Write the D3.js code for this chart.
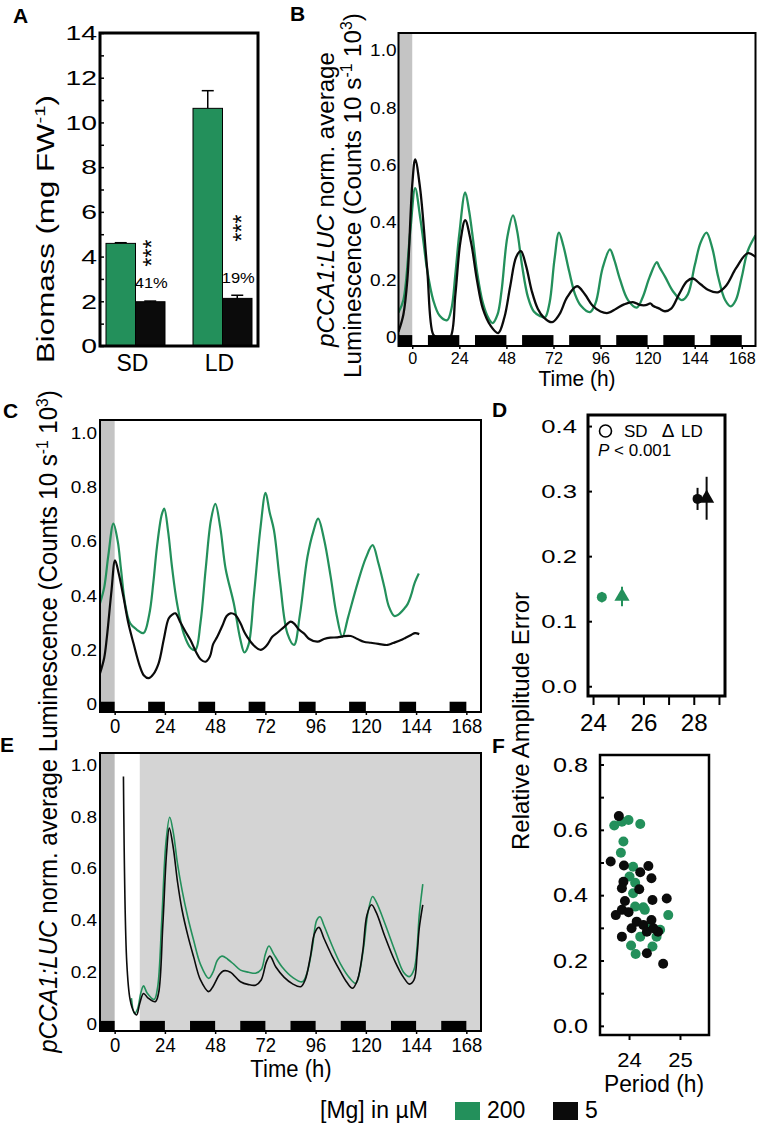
<!DOCTYPE html>
<html><head><meta charset="utf-8">
<script src="https://cdn.jsdelivr.net/npm/d3@7"></script>
<style>body{margin:0;background:#fff}svg{display:block}text{font-family:"Liberation Sans",Arial,sans-serif}</style>
</head><body><svg id="c" width="757" height="1130"></svg>
<script>
// ---------------- DATA ----------------
const GREEN="#23905b", BLACK="#0b0b0b";
// Panel A
const aGroups=["SD","LD"];
const aSeries=["200","5"];
const aGreen=[4.59,10.63];
const aGreenErr=[0.03,0.79];
const aBlack=[1.98,2.13];
const aBlackErr=[0.03,0.14];
const aPct=["41%","19%"];
const aTicks=d3.range(0,15,1);
// Panel B (SD entrainment)
const bGreenT=[-7,-4.5,-1,1.5,4,5.6,7.5,10.7,14,17.8,20,22,24,27,29,31,33,36,39,41,43.5,45.5,48.5,51.4,53.5,56,59,62,65,67.7,70,72.5,74.8,77,80,83,86,90.6,93.5,97,100.8,103,106,110,114.5,117.5,121,124.7,126,129,133,137.4,140.5,144,147,150,153,156,159.5,162.4,165,168,171,175];
const bGreenV=[0.087,0.13,0.37,0.52,0.42,0.34,0.24,0.13,0.075,0.06,0.1,0.22,0.36,0.505,0.44,0.34,0.23,0.12,0.065,0.05,0.08,0.16,0.35,0.425,0.37,0.25,0.14,0.09,0.075,0.07,0.12,0.27,0.365,0.32,0.23,0.15,0.11,0.088,0.12,0.24,0.306,0.27,0.2,0.13,0.104,0.14,0.21,0.262,0.245,0.21,0.16,0.13,0.15,0.25,0.33,0.365,0.31,0.21,0.13,0.108,0.13,0.21,0.3,0.355];
const bBlackT=[-7,-4.5,-2.5,0,1.5,4,7.6,10.7,12.7,16,19.4,22,24.5,27,30,33,36,40,43.8,47,50,53,55.4,58,61,64,67,71.3,75,79,84,88,92,96,99.8,104,108,112.5,116,119,121.5,122.7,124,126,128.8,132,136,140,143,147,151,155.8,160,165,171,175];
const bBlackV=[0.02,0.08,0.2,0.53,0.62,0.52,0.24,0.01,0,-0.01,0,0.15,0.33,0.408,0.33,0.2,0.1,0.04,0.015,0.07,0.18,0.28,0.3,0.25,0.16,0.1,0.07,0.053,0.08,0.14,0.178,0.15,0.11,0.09,0.085,0.1,0.115,0.123,0.113,0.112,0.118,0.11,0.106,0.1,0.091,0.1,0.15,0.195,0.205,0.185,0.165,0.157,0.18,0.24,0.293,0.28];
const bDark=[[-7,0],[8,24],[32,48],[56,72],[80,96],[104,120],[128,144],[152,168]];
const timeTicks=[0,24,48,72,96,120,144,168];
const lumTicks=[0,0.2,0.4,0.6,0.8,1.0];
// Panel C (LD entrainment)
const cGreenT=[-7,-5,-3,-0.6,1.5,3,5,7.4,10.5,13.8,16.5,18.5,20.2,22.5,23.7,25.5,27.5,29.8,33,36.5,38.6,41,43.5,46,48.1,50.5,53,56.9,60,62,64,66.5,69.7,72.1,74,76.1,79,82.5,85.7,88.5,92.1,95,97.2,100,103.2,106,108.8,111.5,116,120,123.2,126,128.8,131,133.6,135.5,138.4,140,141.6,143.2,145.3];
const cGreenV=[0.372,0.43,0.55,0.667,0.6,0.5,0.37,0.298,0.275,0.262,0.33,0.45,0.58,0.7,0.722,0.64,0.5,0.372,0.26,0.205,0.2,0.3,0.5,0.68,0.74,0.65,0.5,0.372,0.24,0.19,0.22,0.4,0.654,0.781,0.71,0.642,0.45,0.261,0.218,0.33,0.544,0.64,0.685,0.61,0.47,0.33,0.248,0.32,0.445,0.54,0.587,0.52,0.433,0.36,0.325,0.33,0.353,0.37,0.402,0.445,0.482];
const cBlackT=[-7,-5,-3.7,-1.5,0.2,2,4.2,6.5,9,12,14,16.2,18.5,21,23.5,25.8,27.5,29,31.5,34,36.2,39,41,43.4,45.5,47,49,51.5,53.5,55.3,57.5,60.1,62,63.3,66,69.7,72.5,75.3,78,81,84.1,86,88,90.4,93,96.9,100,103,106.4,109,112.8,116,119,122.4,126,130.4,133,136.8,139,141.6,143.5,145.5];
const cBlackV=[0.113,0.17,0.248,0.42,0.531,0.48,0.396,0.3,0.224,0.14,0.105,0.095,0.11,0.15,0.24,0.316,0.33,0.335,0.3,0.265,0.236,0.19,0.165,0.156,0.175,0.22,0.248,0.29,0.325,0.335,0.33,0.298,0.265,0.248,0.22,0.2,0.215,0.248,0.265,0.285,0.304,0.295,0.275,0.261,0.24,0.23,0.24,0.245,0.246,0.25,0.251,0.24,0.23,0.226,0.222,0.218,0.225,0.236,0.245,0.255,0.262,0.258];
const cDark=[[-7,0],[16,24],[40,48],[64,72],[88,96],[112,120],[136,144],[160,168]];
// Panel D
const dPeriod=[24.35,25.15,28.15,28.51];
const dErr=[0.137,0.138,0.288,0.289];
const dSem=[0.008,0.015,0.017,0.033];
const dShape=["circle","triangle","circle","triangle"];
const dColor=[GREEN,GREEN,BLACK,BLACK];
const dYTicks=[0,0.1,0.2,0.3,0.4];
const dXTicks=[24,25,26,27,28,29];
// Panel E (free run in LL)
const eGreenT=[8,9.5,11,12.5,13.8,15.5,18.9,20.5,22.5,24.5,26.3,28,30,32.2,35,37.7,41,44.9,47,49,51.3,54,57,60.1,64,67.3,70,72,73.7,76,80,85,89.7,92,94.5,96.5,98.1,100,104,108,112,115.2,117,119,121,123.2,125,129,134,138,140.8,143,144.5,145.5,147.2];
const eGreenV=[0.1,0.04,0.06,0.12,0.147,0.12,0.095,0.14,0.4,0.7,0.798,0.74,0.62,0.517,0.41,0.324,0.23,0.176,0.2,0.245,0.262,0.25,0.23,0.208,0.2,0.196,0.21,0.27,0.301,0.27,0.22,0.18,0.163,0.2,0.3,0.4,0.414,0.38,0.3,0.23,0.18,0.157,0.2,0.3,0.43,0.492,0.47,0.39,0.28,0.2,0.183,0.21,0.3,0.42,0.54];
const eBlackT=[4.2,5.8,7.4,9,10.5,12,13.8,16,19.4,21,23,24.8,26.1,28,30,32.2,35,37.7,41,44.9,47,50,52,55.3,60.1,64,67.3,70,72.5,74.2,77,81,85,88.9,91,93.5,95.5,97.6,100,104,108,111,113.6,116,118.5,120.5,122.7,125,129,134,138,140.8,143,144.5,145.5,147.2];
const eBlackV=[0.955,0.235,0.093,0.05,0.035,0.08,0.118,0.1,0.086,0.12,0.38,0.66,0.756,0.68,0.55,0.44,0.34,0.26,0.17,0.125,0.145,0.19,0.205,0.2,0.163,0.152,0.15,0.17,0.24,0.262,0.22,0.18,0.155,0.144,0.17,0.26,0.35,0.373,0.33,0.26,0.2,0.16,0.138,0.17,0.28,0.42,0.46,0.43,0.34,0.24,0.18,0.154,0.17,0.27,0.37,0.46];
const eDark=[[-7,0],[12,24],[36,48],[60,72],[84,96],[108,120],[132,144],[156,168]];
const eLight=[12,175];
// Panel F
const fGreenP=[23.71,23.86,23.99,24.22,23.89,23.84,24.08,24.01,24.12,24.08,24.28,24.31,24.12,24.77,24.22,24.61,24.54,24.04,24.13,24.46,24.41];
const fGreenA=[0.613,0.625,0.63,0.618,0.564,0.53,0.487,0.457,0.438,0.406,0.363,0.355,0.365,0.339,0.273,0.294,0.273,0.246,0.22,0.243,0.304];
const fBlackP=[23.80,23.64,23.90,24.38,24.22,24.44,23.89,23.86,24.20,24.46,24.74,23.92,23.74,23.86,23.99,24.15,24.28,24.44,24.05,24.35,24.57,23.86,24.35,24.67,24.48];
const fBlackA=[0.642,0.503,0.491,0.489,0.47,0.452,0.441,0.421,0.418,0.385,0.39,0.382,0.339,0.355,0.348,0.319,0.309,0.324,0.299,0.288,0.288,0.273,0.222,0.19,0.299];
const fYTicks=[0,0.1,0.2,0.3,0.4,0.5,0.6,0.7,0.8];
const fXTicks=[24,25];
// Legend
const legendItems=["200","5"];
const legendColors=[GREEN,BLACK];

// ---------------- HELPERS ----------------
const svg=d3.select("#c");
svg.append("rect").attr("width",757).attr("height",1130).attr("fill","#fff");

function label(txt,x,y,size,o={}){
  return svg.append("text").attr("transform",`translate(${x},${y}) scale(${o.sx||1},1)`)
    .attr("text-anchor",o.anchor||"middle").attr("font-size",size)
    .attr("font-weight",o.weight||"normal").attr("font-style",o.style||"normal")
    .attr("fill","#000").text(txt);
}
function rotLabel(parts,cx,cy,len,size){
  const t=svg.append("text").attr("font-size",size).attr("text-anchor","middle").attr("fill","#000");
  const sh=size*0.38; let shifted=false;
  parts.forEach(p=>{
    const ts=t.append("tspan").text(p.t);
    if(p.i) ts.attr("font-style","italic");
    if(p.sup){ts.attr("font-size",size*0.65).attr("dy",-sh);shifted=true;}
    else if(shifted){ts.attr("dy",sh);shifted=false;}
  });
  const w=t.node().getComputedTextLength();
  t.attr("transform",`translate(${cx},${cy}) rotate(-90) scale(${len/w},1)`);
  return t;
}
function axis(gen,tx,ty,size,sx,tw){
  const g=svg.append("g").attr("transform",`translate(${tx},${ty})`).call(gen);
  g.select(".domain").remove();
  g.selectAll(".tick line").attr("stroke","#000").attr("stroke-width",tw||1.5);
  g.selectAll(".tick text").attr("fill","#000").attr("font-size",size).each(function(){
    const s=d3.select(this); const x=+(s.attr("x")||0);
    s.attr("x",x/sx).attr("transform",`scale(${sx},1)`);
  });
  return g;
}
function frame(x0,y0,x1,y1,sw){
  svg.append("rect").attr("x",x0).attr("y",y0).attr("width",x1-x0).attr("height",y1-y0)
    .attr("fill","none").attr("stroke","#000").attr("stroke-width",sw);
}
function clip(id,x0,y0,x1,y1){
  svg.append("clipPath").attr("id",id).append("rect").attr("x",x0).attr("y",y0).attr("width",x1-x0).attr("height",y1-y0);
  return svg.append("g").attr("clip-path",`url(#${id})`);
}
const fmtLum=d=>d===0?"0":d3.format(".1f")(d);

// ---------------- PANEL A ----------------
{
  const x0=100,x1=258,y0=33,y1=346;
  const y=d3.scaleLinear().domain([0,14]).range([y1,y0]);
  const x=d3.scaleBand().domain(aGroups).range([x0,x1]).paddingInner(0.322).paddingOuter(0.069);
  const xs=d3.scaleBand().domain(aSeries).range([0,x.bandwidth()]);
  const vals={"200":aGreen,"5":aBlack}, errs={"200":aGreenErr,"5":aBlackErr}, cols={"200":GREEN,"5":BLACK};
  aSeries.forEach(s=>{
    aGroups.forEach((g,i)=>{
      const bx=x(g)+xs(s), v=vals[s][i], e=errs[s][i], cx=bx+xs.bandwidth()/2;
      svg.append("line").attr("x1",cx).attr("x2",cx).attr("y1",y(v)).attr("y2",y(v+e)).attr("stroke","#000").attr("stroke-width",1.5);
      svg.append("line").attr("x1",cx-6).attr("x2",cx+6).attr("y1",y(v+e)).attr("y2",y(v+e)).attr("stroke","#000").attr("stroke-width",1.5);
      svg.append("rect").attr("x",bx).attr("y",y(v)).attr("width",xs.bandwidth()).attr("height",y(0)-y(v))
        .attr("fill",cols[s]).attr("stroke","#000").attr("stroke-width",1);
    });
  });
  frame(x0,y0,x1,y1,3);
  axis(d3.axisLeft(y).tickValues(aTicks).tickSize(-4).tickPadding(3).tickFormat(d=>d%2===0?d:""),x0,0,21,1.35);
  aGroups.forEach((g,i)=>{
    label(g,x(g)+x.bandwidth()/2-3,371,23);
    const bx=x(g)+xs("5")+xs.bandwidth()/2;
    label(aPct[i],bx+1,i===0?288:283,15,{sx:1.1});
  });
  svg.append("text").attr("transform",`translate(160,253) rotate(-90)`).attr("text-anchor","middle").attr("font-size",23).text("***");
  svg.append("text").attr("transform",`translate(250,228) rotate(-90)`).attr("text-anchor","middle").attr("font-size",23).text("***");
  rotLabel([{t:"Biomass (mg FW"},{t:"-1",sup:true},{t:")"}],54,229,268,23);
  label("A",13,23,21,{anchor:"start",weight:"bold"});
}

// ---------------- PANEL B ----------------
{
  const x0=398.5,x1=755.5,y0=33,y1=346;
  const x=d3.scaleLinear().domain([-7,175]).range([x0,x1]);
  const y=d3.scaleLinear().domain([-0.03,1.06]).range([y1,y0]);
  const g=clip("clipB",x0,y0,x1,y1);
  g.append("rect").attr("x",x(-7)).attr("y",y0).attr("width",x(0)-x(-7)).attr("height",y1-y0).attr("fill","#c4c4c4");
  const line=d3.line().x(d=>x(d[0])).y(d=>y(d[1])).curve(d3.curveCatmullRom.alpha(0.5));
  g.append("path").datum(d3.zip(bGreenT,bGreenV)).attr("d",line).attr("fill","none").attr("stroke",GREEN).attr("stroke-width",2.3);
  g.append("path").datum(d3.zip(bBlackT,bBlackV)).attr("d",line).attr("fill","none").attr("stroke",BLACK).attr("stroke-width",2.3);
  g.selectAll("rect.dk").data(bDark).join("rect").attr("class","dk").attr("x",d=>x(d[0])).attr("width",d=>x(d[1])-x(d[0]))
    .attr("y",y(0.008)).attr("height",y1-y(0.008)).attr("fill","#000");
  frame(x0,y0,x1,y1,2);
  axis(d3.axisLeft(y).tickValues(lumTicks).tickSize(0).tickPadding(2).tickFormat(fmtLum),x0,0,17,1.12);
  axis(d3.axisBottom(x).tickValues(timeTicks).tickSize(3).tickPadding(3),0,y1,17,0.95);
  label("Time (h)",577,386,22,{sx:0.95});
  rotLabel([{t:"pCCA1:LUC",i:true},{t:" norm. average"}],334,199.5,295,24);
  rotLabel([{t:"Luminescence (Counts 10 s"},{t:"-1",sup:true},{t:" 10"},{t:"3",sup:true},{t:")"}],361,195.5,365,24);
  label("B",290,21,21,{anchor:"start",weight:"bold"});
}

// ---------------- PANEL C ----------------
{
  const x0=100,x1=481,y0=420,y1=712;
  const x=d3.scaleLinear().domain([-7,175]).range([x0,x1]);
  const y=d3.scaleLinear().domain([-0.03,1.05]).range([y1,y0]);
  const g=clip("clipC",x0,y0,x1,y1);
  g.append("rect").attr("x",x(-7)).attr("y",y0).attr("width",x(0)-x(-7)).attr("height",y1-y0).attr("fill","#c4c4c4");
  const line=d3.line().x(d=>x(d[0])).y(d=>y(d[1])).curve(d3.curveCatmullRom.alpha(0.5));
  g.append("path").datum(d3.zip(cGreenT,cGreenV)).attr("d",line).attr("fill","none").attr("stroke",GREEN).attr("stroke-width",2.2);
  g.append("path").datum(d3.zip(cBlackT,cBlackV)).attr("d",line).attr("fill","none").attr("stroke",BLACK).attr("stroke-width",2.2);
  g.selectAll("rect.dk").data(cDark).join("rect").attr("class","dk").attr("x",d=>x(d[0])).attr("width",d=>x(d[1])-x(d[0]))
    .attr("y",y(0.008)).attr("height",y1-y(0.008)).attr("fill","#000");
  frame(x0,y0,x1,y1,2);
  axis(d3.axisLeft(y).tickValues(lumTicks).tickSize(0).tickPadding(3).tickFormat(fmtLum),x0,0,16.5,1.15);
  axis(d3.axisBottom(x).tickValues(timeTicks).tickSize(3).tickPadding(3),0,y1,21,0.88);
  label("C",3,418,21,{anchor:"start",weight:"bold"});
}

// ---------------- PANEL E ----------------
{
  const x0=100,x1=481,y0=753,y1=1031;
  const x=d3.scaleLinear().domain([-7,175]).range([x0,x1]);
  const y=d3.scaleLinear().domain([-0.027,1.046]).range([y1,y0]);
  const g=clip("clipE",x0,y0,x1,y1);
  g.append("rect").attr("x",x(-7)).attr("y",y0).attr("width",x(0)-x(-7)).attr("height",y1-y0).attr("fill","#b9b9b9");
  g.append("rect").attr("x",x(eLight[0])).attr("y",y0).attr("width",x(eLight[1])-x(eLight[0])).attr("height",y1-y0).attr("fill","#d4d4d4");
  const line=d3.line().x(d=>x(d[0])).y(d=>y(d[1])).curve(d3.curveCatmullRom.alpha(0.5));
  g.append("path").datum(d3.zip(eGreenT,eGreenV)).attr("d",line).attr("fill","none").attr("stroke",GREEN).attr("stroke-width",1.6);
  g.append("path").datum(d3.zip(eBlackT,eBlackV)).attr("d",line).attr("fill","none").attr("stroke",BLACK).attr("stroke-width",1.6);
  g.selectAll("rect.dk").data(eDark).join("rect").attr("class","dk").attr("x",d=>x(d[0])).attr("width",d=>x(d[1])-x(d[0]))
    .attr("y",y(0.012)).attr("height",y1-y(0.012)).attr("fill","#000");
  frame(x0,y0,x1,y1,2);
  axis(d3.axisLeft(y).tickValues(lumTicks).tickSize(0).tickPadding(3).tickFormat(fmtLum),x0,0,16.5,1.15);
  axis(d3.axisBottom(x).tickValues(timeTicks).tickSize(3).tickPadding(3),0,y1,21,0.88);
  label("Time (h)",291,1077,24,{sx:0.92});
  label("E",0,752,21,{anchor:"start",weight:"bold"});
}
rotLabel([{t:"pCCA1:LUC",i:true},{t:" norm. average Luminescence (Counts 10 s"},{t:"-1",sup:true},{t:" 10"},{t:"3",sup:true},{t:")"}],57,721.5,663,25);

// ---------------- PANEL D ----------------
{
  const x0=588,x1=725,y0=415,y1=696;
  const x=d3.scaleLinear().domain([23.8,29.24]).range([x0,x1]);
  const y=d3.scaleLinear().domain([-0.015,0.417]).range([y1,y0]);
  dPeriod.forEach((p,i)=>{
    svg.append("line").attr("x1",x(p)).attr("x2",x(p)).attr("y1",y(dErr[i]-dSem[i])).attr("y2",y(dErr[i]+dSem[i])).attr("stroke",dColor[i]).attr("stroke-width",2);
    if(dShape[i]==="circle") svg.append("circle").attr("cx",x(p)).attr("cy",y(dErr[i])).attr("r",5).attr("fill",dColor[i]);
    else svg.append("path").attr("d",d3.symbol(d3.symbolTriangle).size(100)()).attr("transform",`translate(${x(p)},${y(dErr[i])})`).attr("fill",dColor[i]);
  });
  frame(x0,y0,x1,y1,3);
  axis(d3.axisLeft(y).tickValues(dYTicks).tickSize(-4).tickPadding(11).tickFormat(d3.format(".1f")),x0,0,19,1.35,2);
  axis(d3.axisBottom(x).tickValues(dXTicks).tickSize(9).tickPadding(10).tickFormat(d=>d%2===0?d:""),0,y1,23,1.05,2);
  svg.append("circle").attr("cx",605.5).attr("cy",431).attr("r",6).attr("fill","none").attr("stroke","#000").attr("stroke-width",1.6);
  label("SD",624,437,17,{anchor:"start"});
  label("Δ",668,437,19);
  label("LD",681,437,17,{anchor:"start"});
  svg.append("text").attr("x",598).attr("y",456).attr("font-size",17).attr("fill","#000")
    .call(t=>{t.append("tspan").attr("font-style","italic").text("P");t.append("tspan").text(" < 0.001");});
  label("D",492,417,21,{anchor:"start",weight:"bold"});
}

// ---------------- PANEL F ----------------
{
  const x0=600,x1=709,y0=755,y1=1035;
  const x=d3.scaleLinear().domain([23.43,25.57]).range([x0,x1]);
  const y=d3.scaleLinear().domain([-0.028,0.829]).range([y1,y0]);
  svg.append("g").selectAll("circle").data(d3.zip(fGreenP,fGreenA)).join("circle")
    .attr("cx",d=>x(d[0])).attr("cy",d=>y(d[1])).attr("r",5).attr("fill",GREEN);
  svg.append("g").selectAll("circle").data(d3.zip(fBlackP,fBlackA)).join("circle")
    .attr("cx",d=>x(d[0])).attr("cy",d=>y(d[1])).attr("r",5).attr("fill",BLACK);
  frame(x0,y0,x1,y1,2.5);
  axis(d3.axisLeft(y).tickValues(fYTicks).tickSize(-4).tickPadding(12).tickFormat(d=>Math.round(d*10)%2===0?d3.format(".1f")(d):""),x0,0,21,1.2,2);
  axis(d3.axisBottom(x).tickValues(fXTicks).tickSize(5).tickPadding(12).tickFormat(d3.format("d")),0,y1,21,1.05,2);
  label("Period (h)",654,1092,24,{sx:0.95});
  label("F",492,753,21,{anchor:"start",weight:"bold"});
}
rotLabel([{t:"Relative Amplitude Error"}],529,721,258,24);

// ---------------- LEGEND ----------------
{
  label("[Mg] in µM",320,1118,23,{anchor:"start"});
  const lx=d3.scalePoint().domain(legendItems).range([455,553]);
  legendItems.forEach((k,i)=>{
    svg.append("rect").attr("x",lx(k)).attr("y",1102).attr("width",25).attr("height",18).attr("fill",legendColors[i]);
    label(k,lx(k)+32,1118,23,{anchor:"start"});
  });
}
</script></body></html>
